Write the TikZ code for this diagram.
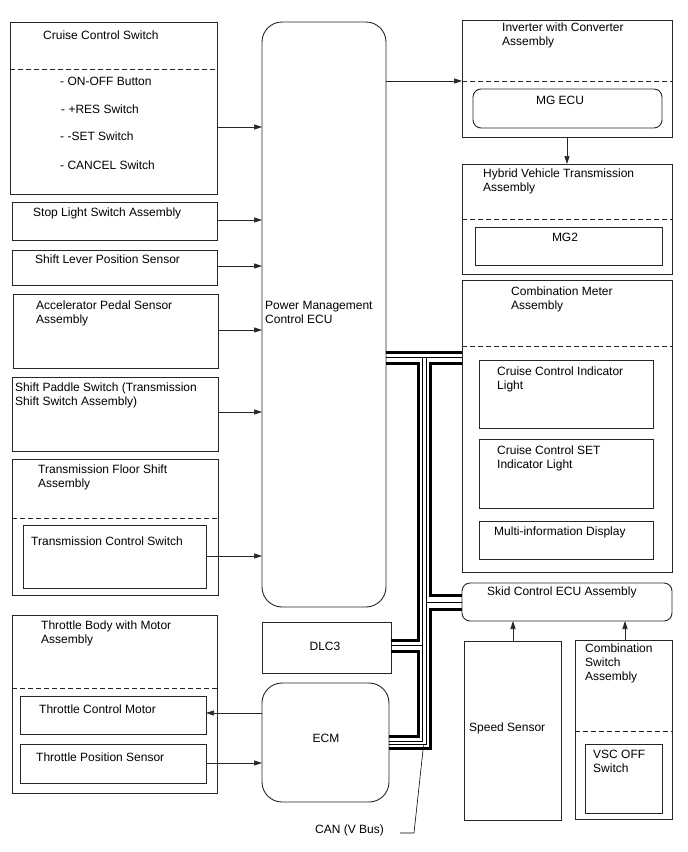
\documentclass[tikz,border=0pt]{standalone}
\usepackage{fontspec}
\setmainfont{Liberation Sans}
\usetikzlibrary{arrows.meta}
\begin{document}
\begin{tikzpicture}[x=1pt,y=-1pt,
  box/.style={draw=black!85, line width=0.9pt, inner sep=0pt, outer sep=0pt, anchor=north west},
  rbox/.style={box, rounded corners=#1},
  txt/.style={anchor=north west, inner sep=0pt, align=left, font=\fontsize{12}{14}\selectfont},
  ctxt/.style={anchor=center, inner sep=0pt, font=\fontsize{12}{14}\selectfont},
  arr/.style={draw=black!85, line width=0.7pt, -{Triangle[length=8pt,width=5pt]}},
  dsh/.style={draw=black!85, line width=0.9pt, dash pattern=on 5pt off 3pt},
  thickbus/.style={line width=3pt, line join=miter},
  thinbus/.style={line width=1pt}
]
\useasboundingbox (0,0) rectangle (688,852);
\fill[white] (0,0) rectangle (688,852);

% ---------- left column ----------
\node[box, minimum width=207pt, minimum height=172pt] (ccs) at (10,22) {};
\node[rbox=20pt, minimum width=124pt, minimum height=585pt] (pmc) at (262,22) {};
\node[box, minimum width=205pt, minimum height=38pt] (sls) at (12,202) {};
\node[box, minimum width=205pt, minimum height=35pt] (slp) at (12,250) {};
\node[box, minimum width=205pt, minimum height=74pt] (aps) at (13,294) {};
\node[box, minimum width=206pt, minimum height=74pt] (sps) at (12,377) {};
\node[box, minimum width=206pt, minimum height=136pt] (tfs) at (12,459) {};
\node[box, minimum width=183pt, minimum height=63pt] (tcs) at (23,525) {};
\node[box, minimum width=205pt, minimum height=178pt] (tbm) at (12,615) {};
\node[box, minimum width=186pt, minimum height=38pt] (tcm) at (20,696) {};
\node[box, minimum width=186pt, minimum height=39pt] (tps) at (20,744) {};
\node[box, minimum width=129pt, minimum height=51pt] (dlc) at (262,622) {};
\node[rbox=20pt, minimum width=127pt, minimum height=119pt] (ecm) at (262,683) {};

% ---------- right column ----------
\node[box, minimum width=210pt, minimum height=117pt] (inv) at (462,20) {};
\node[rbox=8pt, minimum width=189pt, minimum height=39pt] (mgecu) at (473,89) {};
\node[box, minimum width=210pt, minimum height=110pt] (hvt) at (462,164) {};
\node[box, minimum width=187pt, minimum height=38pt] (mg2) at (475,227) {};
\node[box, minimum width=210pt, minimum height=292pt] (cmb) at (462,280) {};
\node[box, minimum width=174pt, minimum height=68pt] (cci) at (479,360) {};
\node[box, minimum width=174pt, minimum height=69pt] (ccset) at (479,439) {};
\node[box, minimum width=174pt, minimum height=38pt] (mid) at (479,521) {};
\node[rbox=8pt, minimum width=210pt, minimum height=38pt] (skid) at (462,583) {};
\node[box, minimum width=97pt, minimum height=179pt] (spd) at (464,641) {};
\node[box, minimum width=97pt, minimum height=179pt] (csw) at (575,640) {};
\node[box, minimum width=77pt, minimum height=69pt] (vsc) at (585,744) {};

% ---------- dashed separators ----------
\draw[dsh] (ccs.west |- 0,69) -- (ccs.east |- 0,69);
\draw[dsh] (tfs.west |- 0,518) -- (tfs.east |- 0,518);
\draw[dsh] (tbm.west |- 0,688) -- (tbm.east |- 0,688);
\draw[dsh] (inv.west |- 0,81) -- (inv.east |- 0,81);
\draw[dsh] (hvt.west |- 0,219) -- (hvt.east |- 0,219);
\draw[dsh] (cmb.west |- 0,346) -- (cmb.east |- 0,346);
\draw[dsh] (csw.west |- 0,731) -- (csw.east |- 0,731);

% ---------- texts ----------
\node[txt] (ccs-t) at (43,30.5) {Cruise Control Switch};
\node[txt] (ccs-1) at (60,76.5) {- ON-OFF Button};
\node[txt] (ccs-2) at (61,104.5) {- +RES Switch};
\node[txt] (ccs-3) at (60,131.5) {- -SET Switch};
\node[txt] (ccs-4) at (60,160.5) {- CANCEL Switch};
\node[txt] (sls-t) at (33,207.5) {Stop Light Switch Assembly};
\node[txt] (slp-t) at (35,254.5) {Shift Lever Position Sensor};
\node[txt] (aps-t) at (36,300.5) {Accelerator Pedal Sensor\\Assembly};
\node[txt] (sps-t) at (15,382.5) {Shift Paddle Switch (Transmission\\Shift Switch Assembly)};
\node[txt] (tfs-t) at (38,464.5) {Transmission Floor Shift\\Assembly};
\node[txt] (tcs-t) at (31,536.5) {Transmission Control Switch};
\node[txt] (tbm-t) at (41,620.5) {Throttle Body with Motor\\Assembly};
\node[txt] (tcm-t) at (39,704.5) {Throttle Control Motor};
\node[txt] (tps-t) at (36,752.5) {Throttle Position Sensor};
\node[txt] (pmc-t) at (265,301.5) {Power Management\\Control ECU};
\node[ctxt] (dlc-t) at (325,646) {DLC3};
\node[ctxt] (ecm-t) at (326,738) {ECM};
\node[inner sep=0pt, anchor=east, font=\fontsize{12}{14}\selectfont] (can-t) at (384,830) {CAN (V Bus)};

\node[txt] (inv-t) at (502,22.5) {Inverter with Converter\\Assembly};
\node[ctxt] (mgecu-t) at (560,100) {MG ECU};
\node[txt] (hvt-t) at (483,168.5) {Hybrid Vehicle Transmission\\Assembly};
\node[ctxt] (mg2-t) at (565,237) {MG2};
\node[txt] (cmb-t) at (511,286.5) {Combination Meter\\Assembly};
\node[txt] (cci-t) at (497,366.5) {Cruise Control Indicator\\Light};
\node[txt] (ccset-t) at (497,445.5) {Cruise Control SET\\Indicator Light};
\node[txt] (mid-t) at (494,526.5) {Multi-information Display};
\node[txt] (skid-t) at (487,586.5) {Skid Control ECU Assembly};
\node[txt] (spd-t) at (469,722.5) {Speed Sensor};
\node[txt] (csw-t) at (585,643.5) {Combination\\Switch\\Assembly};
\node[txt] (vsc-t) at (593,749.5) {VSC OFF\\Switch};

% ---------- arrows ----------
\draw[arr] (ccs.east |- 0,127) -- (pmc.west |- 0,127);
\draw[arr] (sls.east |- 0,220) -- (pmc.west |- 0,220);
\draw[arr] (slp.east |- 0,266) -- (pmc.west |- 0,266);
\draw[arr] (aps.east |- 0,330) -- (pmc.west |- 0,330);
\draw[arr] (sps.east |- 0,412) -- (pmc.west |- 0,412);
\draw[arr] (tcs.east |- 0,556) -- (pmc.west |- 0,556);
\draw[arr] (ecm.west |- 0,713) -- (tcm.east |- 0,713);
\draw[arr] (tps.east |- 0,763) -- (ecm.west |- 0,763);
\draw[arr] (pmc.east |- 0,81) -- (inv.west |- 0,81);
\draw[arr] (inv.south -| 567,0) -- (hvt.north -| 567,0);
\draw[arr] (spd.north -| 513,0) -- (skid.south -| 513,0);
\draw[arr] (csw.north -| 625,0) -- (skid.south -| 625,0);

% ---------- CAN bus ----------
\coordinate (busA) at (418,0);
\coordinate (busB) at (422.5,0);
\coordinate (busC) at (426,0);
\coordinate (busD) at (430,0);
\draw[thickbus] (pmc.east |- 0,352) -- (cmb.west |- 0,352);
\draw[thinbus] (pmc.east |- 0,357.5) -- (cmb.west |- 0,357.5);
\draw[thickbus] (pmc.east |- 0,363) -- (busA |- 0,363) -- (busA |- 0,640) -- (dlc.east |- 0,640);
\draw[thickbus] (dlc.east |- 0,651) -- (busA |- 0,651) -- (busA |- 0,736) -- (ecm.east |- 0,736);
\draw[thickbus] (cmb.west |- 0,363) -- (busD |- 0,363) -- (busD |- 0,595) -- (skid.west |- 0,595);
\draw[thickbus] (skid.west |- 0,609) -- (busD |- 0,609) -- (busD |- 0,748) -- (ecm.east |- 0,748);
\draw[thinbus] (busB |- 0,357.5) -- (busB |- 0,741) -- (ecm.east |- 0,741);
\draw[thinbus] (busC |- 0,357.5) -- (busC |- 0,744.5) -- (ecm.east |- 0,744.5);
\draw[thinbus] (dlc.east |- 0,645.5) -- (busB |- 0,645.5);
\draw[thinbus] (busC |- 0,602) -- (skid.west |- 0,602);

% CAN label leader
\coordinate (canstart) at (400,833);
\coordinate (cantip) at (423.5,745.5);
\draw[line width=0.6pt] (canstart) -- (414,833) -- (cantip);
\end{tikzpicture}
\end{document}
